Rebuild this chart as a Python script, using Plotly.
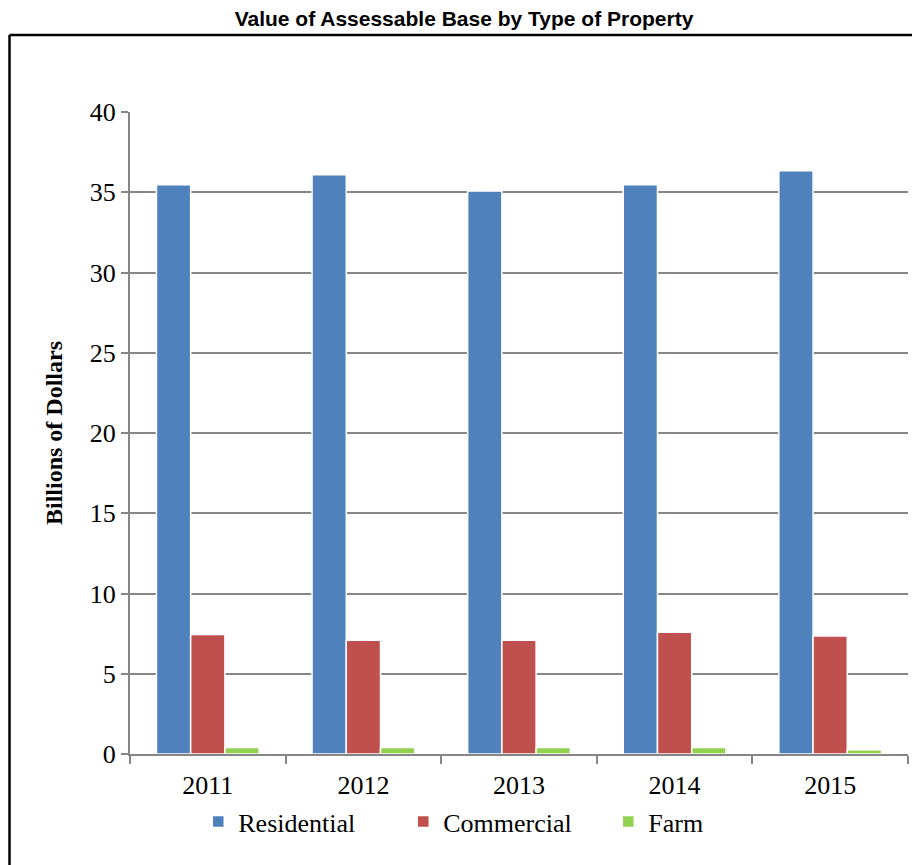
import plotly.graph_objects as go

years = ["2011", "2012", "2013", "2014", "2015"]
residential = [35.47, 36.09, 35.08, 35.46, 36.34]
commercial = [7.45, 7.08, 7.08, 7.58, 7.35]
farm = [0.41, 0.41, 0.41, 0.41, 0.27]

series = [
    ("Residential", residential, "#4F81BD"),
    ("Commercial", commercial, "#C0504D"),
    ("Farm", farm, "#92D050"),
]

fig = go.Figure()
for name, vals, color in series:
    fig.add_trace(go.Bar(
        x=years, y=vals, name=name,
        marker=dict(color=color, line=dict(color="white", width=1.5)),
    ))

serif = "Liberation Serif, Times New Roman, serif"

# page body has an 8px margin: figure origin sits at (8, 8) in the window
W, H = 912, 857
L, R, T, B = 122, 12, 104, 111
pw = W - L - R
ph = H - T - B

def px_x(x):  # figure x px -> paper
    return (x - L) / pw

def px_y(y):  # figure y px -> paper
    return (H - B - y) / ph

fig.update_layout(
    width=W, height=H,
    margin=dict(l=L, r=R, t=T, b=B),
    paper_bgcolor="white", plot_bgcolor="white",
    barmode="group", bargap=0.34, bargroupgap=0.0,
    title=dict(text="<b>Value of Assessable Base by Type of Property</b>",
               x=0.5, xref="container", xanchor="center",
               y=1 - 11 / H, yanchor="middle",
               font=dict(family="Liberation Sans, Arial, sans-serif", size=21, color="black")),
    font=dict(family=serif, color="black"),
    showlegend=True,
    legend=dict(orientation="h", x=0.483, xanchor="center", y=px_y(790), yanchor="top",
                font=dict(family=serif, size=26, color="black"),
                entrywidth=160, traceorder="normal"),
    xaxis=dict(
        showline=True, linecolor="#868686", linewidth=2,
        ticks="outside", tickson="boundaries", ticklen=8, tickwidth=2, tickcolor="#868686",
        tickfont=dict(family=serif, size=26, color="black"),
        ticklabelstandoff=7,
        showgrid=False,
    ),
    yaxis=dict(
        range=[0, 40], dtick=5,
        showline=True, linecolor="#868686", linewidth=2,
        ticks="outside", ticklen=7, tickwidth=2, tickcolor="#868686",
        showgrid=True, gridcolor="#868686", gridwidth=2,
        tickfont=dict(family=serif, size=26, color="black"),
        title=dict(text="<b>Billions of Dollars</b>",
                   font=dict(family=serif, size=24, color="black"), standoff=20),
        zeroline=False,
    ),
    shapes=[
        dict(type="line", xref="paper", yref="paper",
             x0=px_x(1.5), x1=px_x(1.5), y0=px_y(27), y1=px_y(H + 10),
             line=dict(color="black", width=2.5)),
        dict(type="line", xref="paper", yref="paper",
             x0=px_x(1.5), x1=px_x(W + 10), y0=px_y(27), y1=px_y(27),
             line=dict(color="black", width=2.5)),
    ],
)

fig.write_html("out.html")
